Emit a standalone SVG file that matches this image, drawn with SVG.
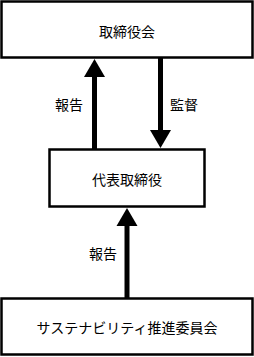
<svg xmlns="http://www.w3.org/2000/svg" width="254" height="357" viewBox="0 0 254 357">
<style>
.box{fill:#fff;stroke:#000;stroke-width:2.5}
.t{font-family:"Noto Sans CJK JP","Noto Sans CJK SC",sans-serif;font-size:14px;fill:#000;text-anchor:middle;dominant-baseline:central}
.shaft{stroke:#000;stroke-width:5;fill:none}
.head{fill:#000}
</style>
<rect width="254" height="357" fill="#fff"/>
<g id="connectors">
<line class="shaft" x1="94.5" y1="75" x2="94.5" y2="149"/>
<polygon class="head" points="94.5,59 84,77 105,77"/>
<line class="shaft" x1="160.5" y1="58" x2="160.5" y2="132"/>
<polygon class="head" points="160.5,148 150,130 171,130"/>
<line class="shaft" x1="127" y1="224" x2="127" y2="298"/>
<polygon class="head" points="127,208 116.5,226 137.5,226"/>
<text class="t" x="69" y="104">報告</text>
<text class="t" x="184" y="104">監督</text>
<text class="t" x="103" y="253">報告</text>
</g>
<g id="board">
<rect class="box" x="1.5" y="1.5" width="251" height="56"/>
<text class="t" x="127" y="31">取締役会</text>
</g>
<g id="ceo">
<rect class="box" x="49.5" y="149.5" width="155" height="57"/>
<text class="t" x="127" y="179">代表取締役</text>
</g>
<g id="committee">
<rect class="box" x="1.5" y="298.5" width="251" height="56"/>
<text class="t" x="127" y="327">サステナビリティ推進委員会</text>
</g>
</svg>
